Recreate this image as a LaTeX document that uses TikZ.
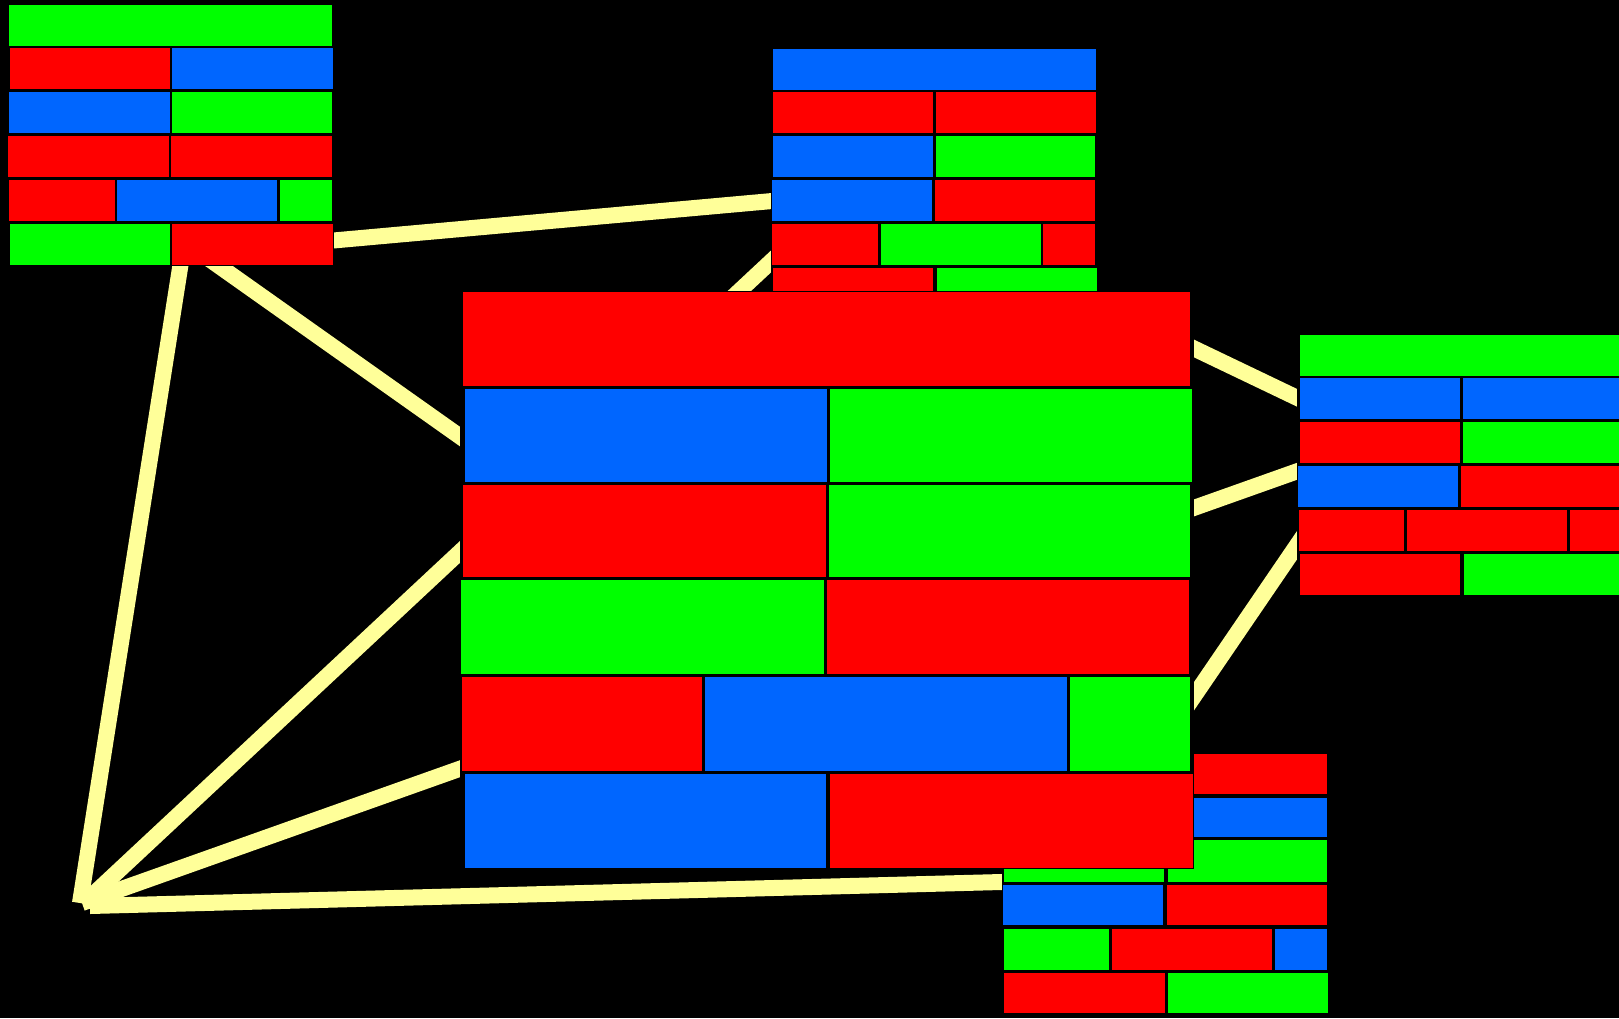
\documentclass[tikz,border=0pt]{standalone}
\usetikzlibrary{backgrounds}
\definecolor{bred}{RGB}{255,0,0}
\definecolor{bgreen}{RGB}{0,255,0}
\definecolor{bblue}{RGB}{0,102,255}
\definecolor{wire}{RGB}{255,255,153}
\pgfdeclarelayer{wires}
\pgfsetlayers{background,wires,main}
\tikzset{
  brick/.style={draw=black, line width=0.9pt},
  stack/.style={fill=black, draw=none, inner sep=0pt, outer sep=0pt, anchor=north west},
  link/.style={draw=wire, line width=16pt, line cap=butt}
}
% one coloured block: colour, left, top, right, bottom
\newcommand\brick[5]{\path[brick, fill=#1] (#2,#3) rectangle (#4,#5);}
\begin{document}
\begin{tikzpicture}[x=1pt, y=-1pt]
\begin{scope}[on background layer]
  \fill[black] (0,0) rectangle (1619,1018);
\end{scope}
\useasboundingbox (0,0) rectangle (1619,1018);
\clip (0,0) rectangle (1619,1018);

% ---------- top-left stack ----------
\node[stack, minimum width=326pt, minimum height=262pt] (tl) at (7,4) {};
\brick{bgreen}{8}{4}{332}{46}
\brick{bred}{9}{47}{170}{89}      \brick{bblue}{171}{47}{333}{89}
\brick{bblue}{8}{91}{170}{133}    \brick{bgreen}{171}{91}{332}{133}
\brick{bred}{7}{135}{169}{177}    \brick{bred}{170}{135}{332}{177}
\brick{bred}{8}{179}{115}{221}    \brick{bblue}{116}{179}{277}{221}  \brick{bgreen}{279}{179}{332}{221}
\brick{bgreen}{9}{223}{170}{265}  \brick{bred}{171}{223}{333}{265}

% ---------- top-middle stack ----------
\node[stack, minimum width=326pt, minimum height=261pt] (tm) at (771,48) {};
\brick{bblue}{772}{48}{1096}{90}
\brick{bred}{772}{91}{933}{133}   \brick{bred}{935}{91}{1096}{133}
\brick{bblue}{772}{135}{933}{177} \brick{bgreen}{935}{135}{1095}{177}
\brick{bblue}{771}{179}{932}{221} \brick{bred}{934}{179}{1095}{221}
\brick{bred}{771}{223}{878}{265}  \brick{bgreen}{880}{223}{1041}{265} \brick{bred}{1042}{223}{1095}{265}
\brick{bred}{772}{267}{933}{309}  \brick{bgreen}{936}{267}{1097}{309}

% ---------- right stack ----------
\node[stack, minimum width=327pt, minimum height=262pt] (rs) at (1297,334) {};
\brick{bgreen}{1299}{334}{1623}{376}
\brick{bblue}{1299}{377}{1460}{419}  \brick{bblue}{1462}{377}{1623}{419}
\brick{bred}{1299}{421}{1460}{463}   \brick{bgreen}{1462}{421}{1623}{463}
\brick{bblue}{1297}{465}{1458}{507}  \brick{bred}{1460}{465}{1621}{507}
\brick{bred}{1298}{509}{1404}{551}   \brick{bred}{1406}{509}{1567}{551}  \brick{bred}{1569}{509}{1623}{551}
\brick{bred}{1299}{553}{1460}{595}   \brick{bgreen}{1463}{553}{1624}{595}

% ---------- bottom-right stack ----------
\node[stack, minimum width=326pt, minimum height=261pt] (br) at (1002,753) {};
\brick{bred}{1003}{753}{1327}{794}
\brick{bblue}{1003}{797}{1327}{837}
\brick{bgreen}{1003}{839}{1164}{882}  \brick{bgreen}{1167}{839}{1327}{882}
\brick{bblue}{1002}{884}{1163}{925}   \brick{bred}{1166}{884}{1327}{925}
\brick{bgreen}{1003}{928}{1109}{970}  \brick{bred}{1111}{928}{1272}{970}  \brick{bblue}{1274}{928}{1327}{970}
\brick{bred}{1003}{972}{1165}{1013}   \brick{bgreen}{1167}{972}{1328}{1013}

% ---------- large central stack ----------
\node[stack, minimum width=734pt, minimum height=578pt] (big) at (460,291) {};
\brick{bred}{462}{291}{1190}{386}
\brick{bblue}{464}{388}{827}{482}   \brick{bgreen}{829}{388}{1192}{482}
\brick{bred}{462}{484}{826}{577}    \brick{bgreen}{828}{484}{1190}{577}
\brick{bgreen}{460}{579}{824}{674}  \brick{bred}{826}{579}{1189}{674}
\brick{bred}{461}{676}{702}{771}    \brick{bblue}{704}{676}{1067}{771}  \brick{bgreen}{1069}{676}{1190}{771}
\brick{bblue}{464}{773}{826}{868}   \brick{bred}{829}{773}{1193}{868}

% ---------- connector ends ----------
\coordinate (hubA) at (80,903);
\coordinate (hubB) at (84,903);
\coordinate (hubC) at (82,903);
\coordinate (hubD) at (90,906);
\coordinate (tlA) at (186,230);
\coordinate (tlB) at (250,248);
\coordinate (tlC) at (180,238.4);
\coordinate (tmA) at (850,194);
\coordinate (tmB) at (820,215.7);
\coordinate (tmC) at (934,224);
\coordinate (rsA) at (1400,434.7);
\coordinate (rsB) at (1400,447.1);
\coordinate (rsC) at (1400,394.2);
\coordinate (brA) at (1100,879.4);
\coordinate (brB) at (1114.8,900);
\coordinate (brC) at (1055,900);

% ---------- connectors, passing under the stacks ----------
\begin{pgfonlayer}{wires}
  \draw[link] (tlB) -- (tmA);
  \draw[link] (hubA) -- (tlA);
  \draw[link] (tlC) -- (brB);
  \draw[link] (hubB) -- (tmB);
  \draw[link] (hubC) -- (rsA);
  \draw[link] (hubD) -- (brA);
  \draw[link] (tmC) -- (rsB);
  \draw[link] (brC) -- (rsC);
\end{pgfonlayer}
\end{tikzpicture}
\end{document}
